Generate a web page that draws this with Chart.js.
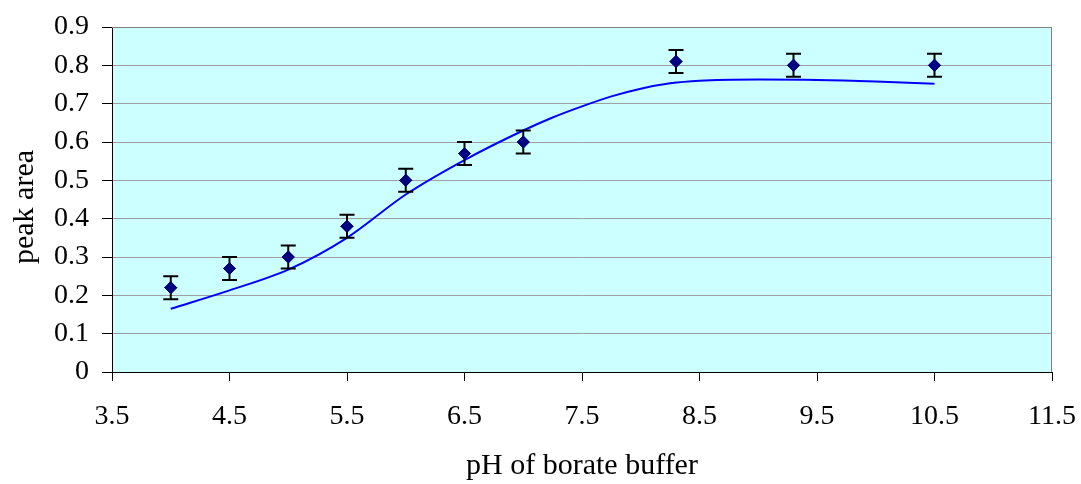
<!DOCTYPE html>
<html>
<head>
<meta charset="utf-8">
<script src="https://cdn.jsdelivr.net/npm/chart.js"></script>
<style>
  html, body { margin: 0; padding: 0; background: #fff; }
  #wrap { width: 1081px; height: 484px; }
</style>
</head>
<body>
<div id="wrap"><canvas id="phChart" width="1081" height="484"></canvas></div>
<script>
// measured points
const phValues = [4.0, 4.5, 5.0, 5.5, 6.0, 6.5, 7.0, 8.3, 9.3, 10.5];
const peakArea = [0.22, 0.27, 0.30, 0.38, 0.50, 0.57, 0.60, 0.81, 0.80, 0.80];
const peakErr  = [0.03, 0.03, 0.03, 0.03, 0.03, 0.03, 0.03, 0.03, 0.03, 0.03];

// fitted curve
const fitPh   = [4.0, 4.5, 5.0, 5.5, 6.0, 6.5, 7.0, 7.25, 7.5, 7.75, 8.0, 8.25, 8.5, 9.0, 9.5, 10.0, 10.5];
const fitArea = [0.165, 0.213, 0.267, 0.350, 0.463, 0.553, 0.630, 0.664, 0.693, 0.719, 0.739, 0.753, 0.760, 0.763, 0.762, 0.758, 0.752];

const xTicks = [3.5, 4.5, 5.5, 6.5, 7.5, 8.5, 9.5, 10.5, 11.5];
const yTicks = [0, 0.1, 0.2, 0.3, 0.4, 0.5, 0.6, 0.7, 0.8, 0.9];

const serif = "'Liberation Serif', 'Times New Roman', serif";

const plotBg = {
  id: "plotBg",
  beforeDraw(chart) {
    const a = chart.chartArea, ctx = chart.ctx;
    ctx.save();
    ctx.fillStyle = "#CCFFFF";
    ctx.fillRect(a.left, a.top, a.right - a.left, a.bottom - a.top);
    ctx.restore();
  },
  afterDraw(chart) {
    const a = chart.chartArea, ctx = chart.ctx;
    ctx.save();
    ctx.strokeStyle = "#808080";
    ctx.lineWidth = 1;
    ctx.beginPath();
    ctx.moveTo(a.left, a.top + 0.5);
    ctx.lineTo(a.right - 0.5, a.top + 0.5);
    ctx.lineTo(a.right - 0.5, a.bottom);
    ctx.stroke();
    // y title
    ctx.fillStyle = "#000";
    ctx.font = "30px " + serif;
    ctx.textAlign = "center";
    ctx.textBaseline = "middle";
    ctx.translate(25, 207);
    ctx.rotate(-Math.PI / 2);
    ctx.fillText("peak area", 0, 0);
    ctx.restore();
  }
};

const errorBars = {
  id: "errorBars",
  afterDatasetsDraw(chart) {
    const xs = chart.scales.x, ys = chart.scales.y, ctx = chart.ctx;
    ctx.save();
    ctx.strokeStyle = "#000";
    ctx.lineWidth = 2;
    phValues.forEach((ph, i) => {
      const x = xs.getPixelForValue(ph);
      const yTop = ys.getPixelForValue(peakArea[i] + peakErr[i]);
      const yBot = ys.getPixelForValue(peakArea[i] - peakErr[i]);
      ctx.beginPath();
      ctx.moveTo(x, yTop); ctx.lineTo(x, yBot);
      ctx.moveTo(x - 7.5, yTop); ctx.lineTo(x + 7.5, yTop);
      ctx.moveTo(x - 7.5, yBot); ctx.lineTo(x + 7.5, yBot);
      ctx.stroke();
    });
    // redraw the markers over the bars
    const meta = chart.getDatasetMeta(0);
    meta.data.forEach(pt => pt.draw(ctx, chart.chartArea));
    ctx.restore();
  }
};

new Chart(document.getElementById("phChart"), {
  type: "scatter",
  data: {
    datasets: [
      {
        label: "peak area",
        data: phValues.map((x, i) => ({ x: x, y: peakArea[i] })),
        pointStyle: "rectRot",
        pointRadius: 6,
        backgroundColor: "#000080",
        borderColor: "#000080",
        borderWidth: 1,
        showLine: false,
        order: 0
      },
      {
        label: "fit",
        data: fitPh.map((x, i) => ({ x: x, y: fitArea[i] })),
        showLine: true,
        borderColor: "#0000FF",
        borderWidth: 2,
        pointRadius: 0,
        cubicInterpolationMode: "monotone",
        order: 1
      }
    ]
  },
  options: {
    responsive: false,
    animation: false,
    layout: { padding: { left: 0, top: 27, right: 29, bottom: 0 } },
    plugins: { legend: { display: false }, tooltip: { enabled: false } },
    scales: {
      x: {
        type: "linear",
        min: 3.5,
        max: 11.5,
        afterBuildTicks: s => { s.ticks = xTicks.map(v => ({ value: v })); },
        afterFit: s => { s.height = 112; s.paddingLeft = 0; s.paddingRight = 0; },
        grid: { drawOnChartArea: false, drawTicks: true, tickLength: 9, color: "#000", tickColor: "#000" },
        border: { color: "#000", width: 1 },
        ticks: { color: "#000", font: { family: serif, size: 28 }, padding: 19, maxRotation: 0,
                 callback: v => String(v) },
        title: { display: true, text: "pH of borate buffer", color: "#000",
                 font: { family: serif, size: 30 }, padding: { top: 0, bottom: 0 } }
      },
      y: {
        type: "linear",
        min: 0,
        max: 0.9,
        afterBuildTicks: s => { s.ticks = yTicks.map(v => ({ value: v })); },
        afterFit: s => { s.width = 112; s.paddingTop = 0; s.paddingBottom = 0; },
        grid: { color: "#A0A0A0", lineWidth: 1, drawTicks: true, tickLength: 10, tickColor: "#000" },
        border: { color: "#000", width: 1 },
        ticks: { color: "#000", font: { family: serif, size: 28 }, padding: 13,
                 callback: v => String(Math.round(v * 10) / 10) }
      }
    }
  },
  plugins: [plotBg, errorBars]
});
</script>
</body>
</html>
